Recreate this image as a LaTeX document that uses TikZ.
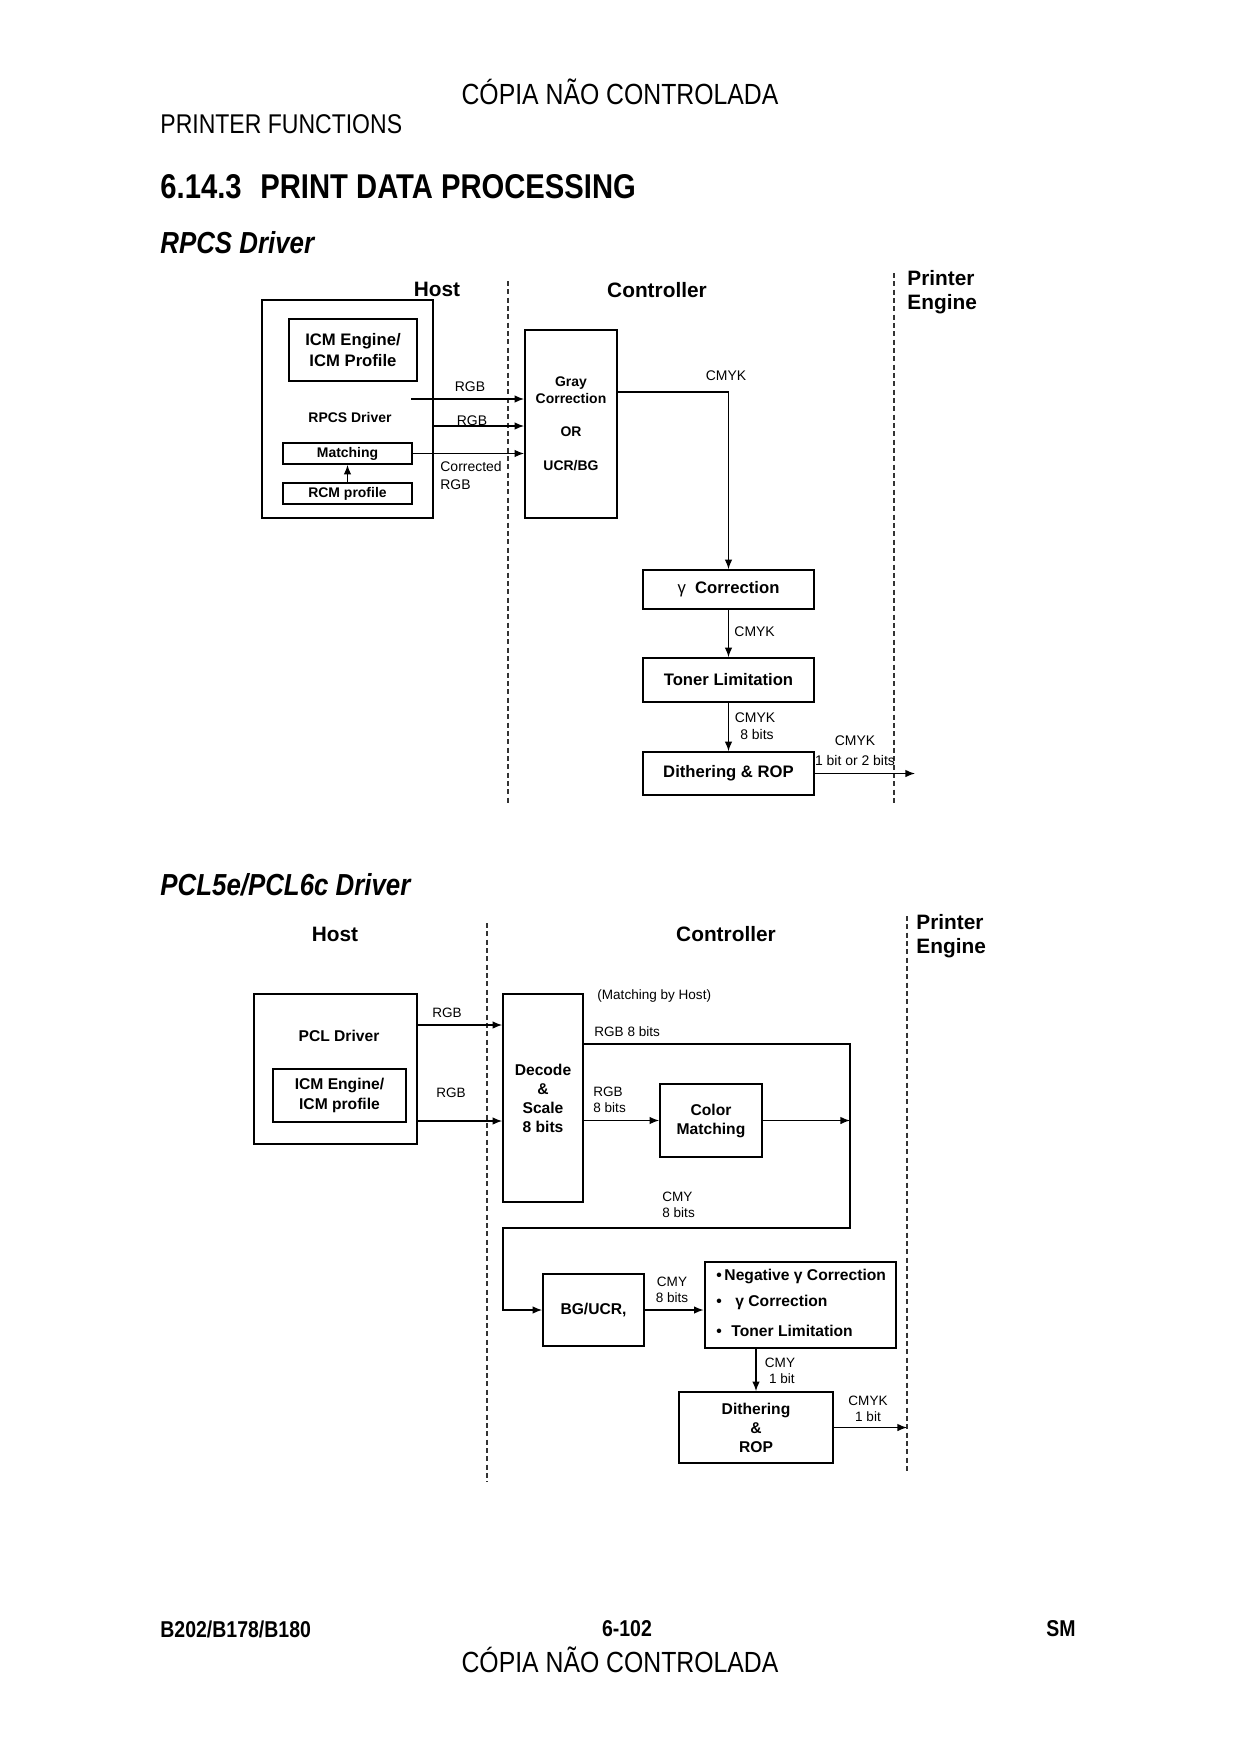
\documentclass[tikz,border=0pt]{standalone}
\usepackage{fontspec}
\setmainfont{Liberation Sans}
\newfontfamily\narrowfont[FakeStretch=0.85]{Liberation Sans}
\usepackage{tikz}
\usepgflibrary{arrows}
\usetikzlibrary{arrows.meta}

\begin{document}
\begin{tikzpicture}[x=0.48pt,y=-0.48pt]
	\tikzset{box/.style = {shape=rectangle,draw,line width=0.8pt,inner sep=0pt,
			align=center,font=\bfseries\fontsize{8}{10}\selectfont}}
	\tikzset{smallbox/.style = {box,font=\bfseries\fontsize{6.7}{8.2}\selectfont}}
	\tikzset{boxB/.style = {box,font=\bfseries\fontsize{7.5}{9.1}\selectfont}}
	\tikzset{edge/.style = {->,> = {Latex[length=4.6pt,width=3.6pt]},line width=0.6pt}}
	\tikzset{sep/.style = {line width=0.7pt,dash pattern=on 2.4pt off 1.6pt,black!80}}
	\tikzset{lbl/.style = {inner sep=0pt,align=center,font=\fontsize{6.7}{8.2}\selectfont}}
	\tikzset{lblB/.style = {lbl,font=\fontsize{6.5}{7.7}\selectfont}}
	\tikzset{zone/.style = {inner sep=0pt,align=left,font=\bfseries\fontsize{10}{11.6}\selectfont}}
	\tikzset{bul/.style = {inner sep=0pt,anchor=west,font=\bfseries\fontsize{7.5}{9}\selectfont}}
	
	\useasboundingbox (0,0) rectangle (1240,1754);
	
	% page header and footer
	\node[font=\narrowfont\fontsize{14}{16}\selectfont] (copyTop) at (620,92) {CÓPIA NÃO CONTROLADA};
	\node[anchor=west,inner sep=0pt,font=\narrowfont\fontsize{13}{15}\selectfont] (chapter) at (160,124) {PRINTER FUNCTIONS};
	\node[anchor=west,inner sep=0pt,font=\narrowfont\bfseries\fontsize{16.5}{19}\selectfont] (title) at (160,187) {6.14.3\hspace{9pt}PRINT DATA PROCESSING};
	\node[anchor=west,inner sep=0pt,font=\narrowfont\bfseries\itshape\fontsize{14.6}{17}\selectfont] (subA) at (160,243) {RPCS Driver};
	\node[anchor=west,inner sep=0pt,font=\narrowfont\bfseries\itshape\fontsize{14.6}{17}\selectfont] (subB) at (160,885) {PCL5e/PCL6c Driver};
	\node[anchor=west,inner sep=0pt,font=\narrowfont\bfseries\fontsize{11}{13}\selectfont] (model) at (160,1629) {B202/B178/B180};
	\node[inner sep=0pt,font=\narrowfont\bfseries\fontsize{11}{13}\selectfont] (page) at (627,1629) {6-102};
	\node[anchor=east,inner sep=0pt,font=\narrowfont\bfseries\fontsize{11}{13}\selectfont] (sm) at (1076,1629) {SM};
	\node[font=\narrowfont\fontsize{14}{16}\selectfont] (copyBot) at (620,1660) {CÓPIA NÃO CONTROLADA};
	
	% RPCS: zones
	\draw[sep] (508,281) -- (508,805);
	\draw[sep] (894,273) -- (894,805);
	\node[zone] (hostA) at (437,289) {Host};
	\node[zone] (ctrlA) at (657,290) {Controller};
	\node[zone,anchor=west] (engA) at (907,292) {Printer\\Engine};
	
	% RPCS: vertices
	\node[box,minimum width=82.1pt,minimum height=104.6pt] (rpcs) at (347.5,409) {};
	\node[box,minimum width=61.4pt,minimum height=29.8pt] (icmA) at (353,350) {ICM Engine/\\ICM Profile};
	\node[inner sep=0pt,font=\bfseries\fontsize{6.7}{8}\selectfont] (rpcsName) at (350,418) {RPCS Driver};
	\node[smallbox,minimum width=61.9pt,minimum height=10.1pt] (match) at (347.5,453.5) {Matching};
	\node[smallbox,minimum width=61.9pt,minimum height=10.1pt] (rcm) at (347.5,493.5) {RCM profile};
	\node[smallbox,minimum width=44.2pt,minimum height=90.2pt] (gray) at (571,424) {Gray\\Correction\\[7.6pt]OR\\[8.1pt]UCR/BG};
	\node[box,minimum width=82.1pt,minimum height=18.7pt] (gamma) at (728.5,589.5) {{\mdseries γ}\ \ Correction};
	\node[box,minimum width=82.1pt,minimum height=21.1pt] (toner) at (728.5,680) {Toner Limitation};
	\node[box,minimum width=82.1pt,minimum height=20.6pt] (ditherA) at (728.5,773.5) {Dithering \& ROP};
	\coordinate (rgbA) at (411,399);
	\coordinate (rgbB) at (433,426);
	\coordinate (cmykA) at (617,392);
	\coordinate (engInA) at (915,773.5);
	
	% RPCS: edges
	\draw[edge] (rcm) to (match);
	\draw[edge] (rgbA) to (rgbA -| gray.west);
	\draw[edge] (rgbB) to (rgbB -| gray.west);
	\draw[edge] (match.east) to (match.east -| gray.west);
	\draw[edge] (cmykA) -| (gamma.north);
	\draw[edge] (gamma) to (toner);
	\draw[edge] (toner) to (ditherA);
	\draw[edge] (ditherA.east) to (engInA);
	
	\node[lbl] (lRgbA) at (470,387) {RGB};
	\node[lbl] (lRgbB) at (472,421) {RGB};
	\node[lbl,anchor=west,align=left] (lCorr) at (440,475.5) {Corrected\\RGB};
	\node[lbl] (lCmykA) at (726,376) {CMYK};
	\node[lbl,anchor=west] (lCmykB) at (734,632) {CMYK};
	\node[lbl] (lCmykC) at (755,726.5) {CMYK\\\ 8 bits};
	\node[lbl] (lOutA) at (855,751) {CMYK\\[1.5pt]1 bit or 2 bits};
	
	% PCL: zones
	\draw[sep] (487,923) -- (487,1482);
	\draw[sep] (907,916) -- (907,1473);
	\node[zone] (hostB) at (335,934) {Host};
	\node[zone] (ctrlB) at (726,934) {Controller};
	\node[zone,anchor=west] (engB) at (916,936.5) {Printer\\Engine};
	
	% PCL: vertices
	\node[box,minimum width=78.2pt,minimum height=72pt] (pcl) at (335.5,1069) {};
	\node[inner sep=0pt,font=\bfseries\fontsize{7.5}{9}\selectfont] (pclName) at (339,1036) {PCL Driver};
	\node[boxB,minimum width=63.9pt,minimum height=25.4pt,font=\bfseries\fontsize{7.5}{9.6}\selectfont] (icmB) at (339.5,1095.5) {ICM Engine/\\ICM profile};
	\node[boxB,minimum width=38.4pt,minimum height=99.8pt] (decode) at (543,1098) {Decode\\\&\\Scale\\8 bits};
	\node[boxB,minimum width=49pt,minimum height=35pt] (color) at (711,1120.5) {Color\\Matching};
	\node[boxB,minimum width=48.5pt,minimum height=34.6pt] (bgucr) at (593.5,1310) {BG/UCR,};
	\node[boxB,minimum width=91.7pt,minimum height=41.3pt,line width=1.3pt] (bullet) at (800.5,1305) {};
	\node[bul] (bulA) at (716,1276) {•\,Negative γ Correction};
	\node[bul] (bulB) at (716,1302) {•\hspace{6.5pt}γ Correction};
	\node[bul] (bulC) at (716,1331) {•\hspace{4.6pt}Toner Limitation};
	\node[boxB,minimum width=73.9pt,minimum height=34.1pt] (ditherB) at (756,1427.5) {Dithering\\\&\\ROP};
	\coordinate (rgbC) at (417,1025);
	\coordinate (rgbD) at (417,1121);
	\coordinate (busNE) at (850,1044);
	\coordinate (busSE) at (850,1228);
	\coordinate (busSW) at (503,1228);
	\coordinate (engInB) at (907,1427.5);
	
	% PCL: edges
	\draw[edge] (rgbC) to (rgbC -| decode.west);
	\draw[edge] (rgbD) to (rgbD -| decode.west);
	\draw[edge] (decode.east |- busNE) -- (busNE) -- (busSE) -- (busSW) |- (bgucr.west);
	\draw[edge] (decode.east |- color.west) to (color.west);
	\draw[edge] (color.east) to (color.east -| busNE);
	\draw[edge] (bgucr.east) to (bgucr.east -| bullet.west);
	\draw[edge] (bullet.south -| ditherB.north) to (ditherB.north);
	\draw[edge] (ditherB.east) to (engInB);
	
	\node[lblB] (lRgbC) at (447,1013) {RGB};
	\node[lblB] (lRgbD) at (451,1093) {RGB};
	\node[lblB,anchor=west] (lHost) at (597,996) {(Matching by Host)};
	\node[lblB,anchor=west] (lRgb8) at (594,1032) {RGB 8 bits};
	\node[lblB,anchor=west,align=left] (lRgbE) at (593,1100) {RGB\\8 bits};
	\node[lblB,anchor=west,align=left] (lCmyA) at (662,1205) {CMY\\8 bits};
	\node[lblB] (lCmyB) at (672,1290) {CMY\\8 bits};
	\node[lblB] (lCmyC) at (780,1371) {CMY\\\ 1 bit};
	\node[lblB] (lCmykD) at (868,1409) {CMYK\\1 bit};
\end{tikzpicture}
\end{document}
